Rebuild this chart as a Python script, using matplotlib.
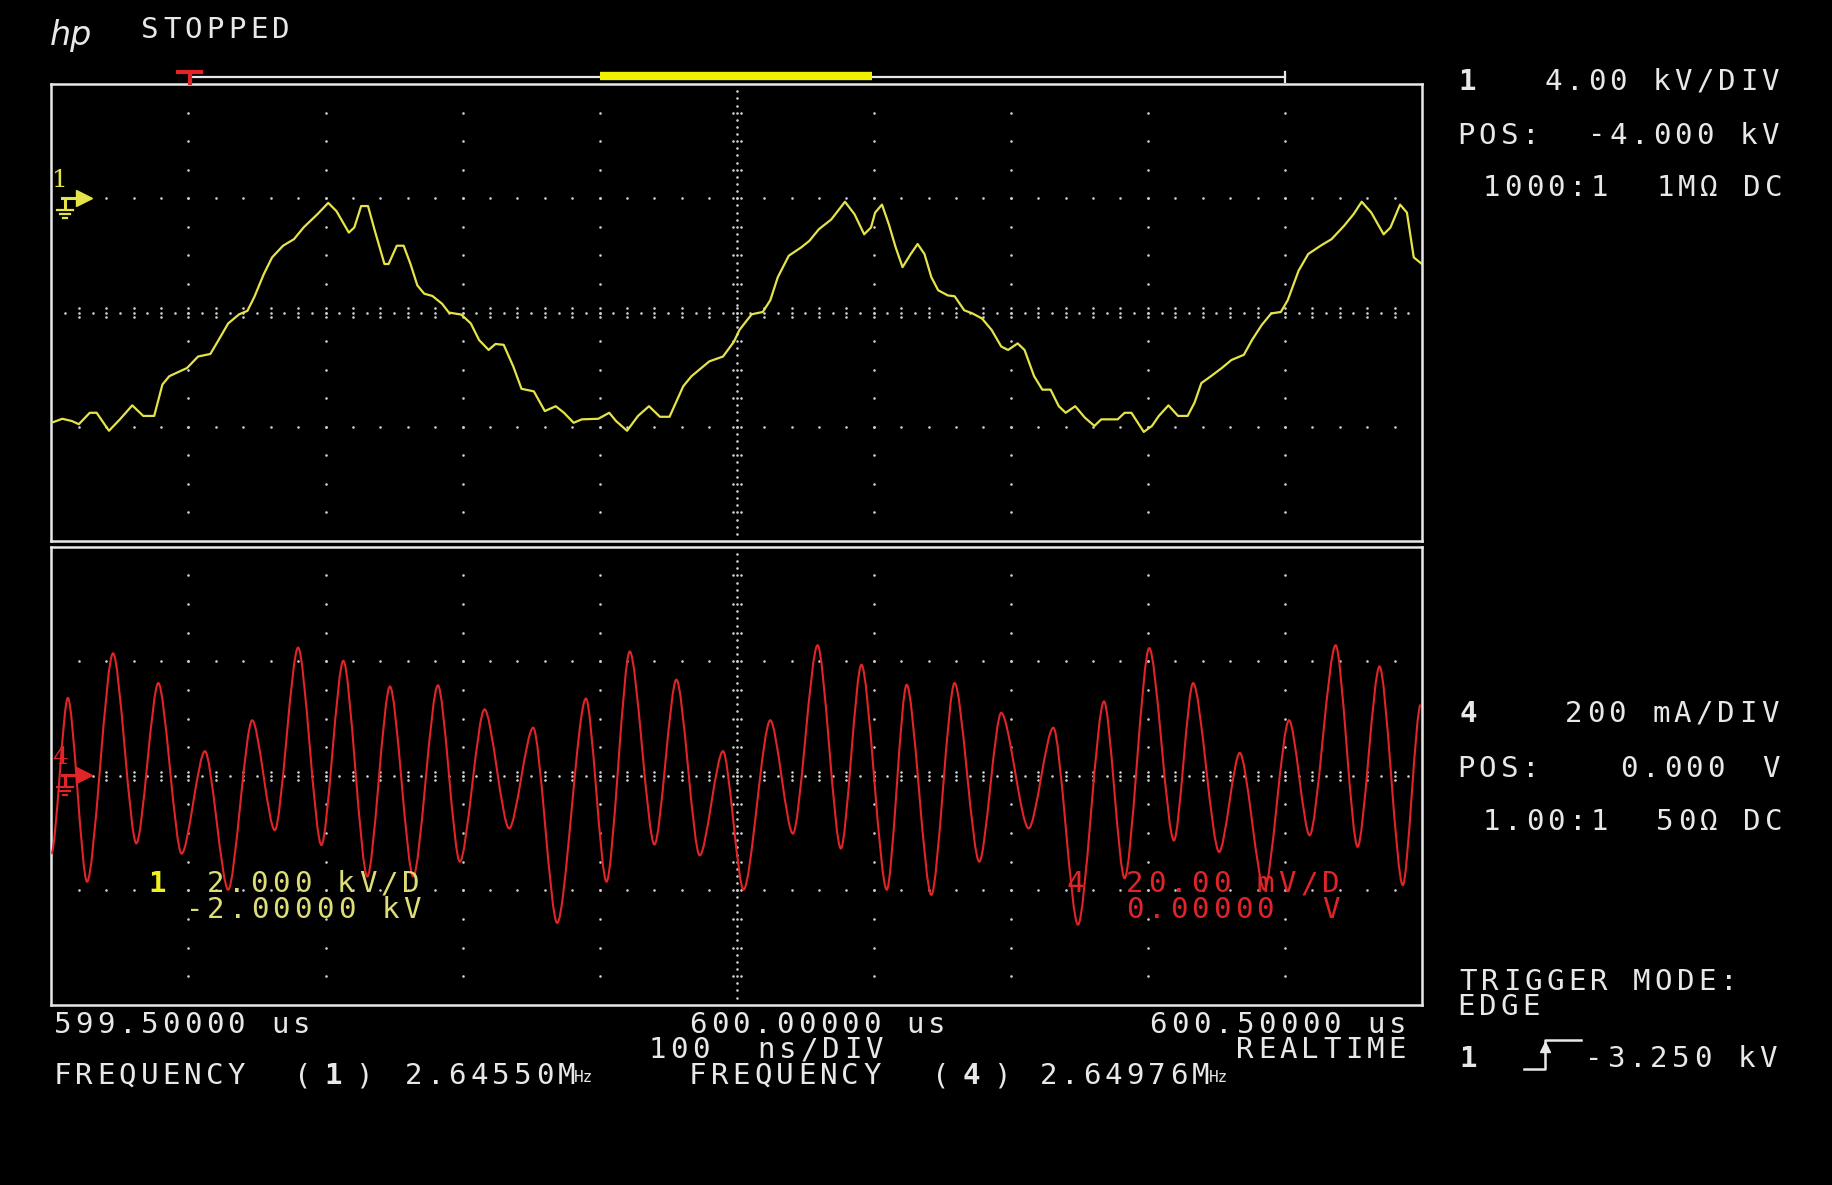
import numpy as np
import matplotlib
matplotlib.use("Agg")
import matplotlib.pyplot as plt
from matplotlib.path import Path
from matplotlib.patches import PathPatch

W, H = 1832, 1185

# channel 1 (yellow): time in ns relative to 600.00000 us, voltage in kV
CH1_T_NS = [
    -500, -492, -485, -480, -472, -467, -458, -450, -441, -433,
    -425, -419, -414, -401, -393, -384, -378, -371, -363, -357,
    -352, -345, -339, -331, -323, -316, -306, -298, -292, -283,
    -279, -274, -269, -264, -257, -254, -248, -243, -238, -233,
    -228, -222, -215, -210, -201, -194, -188, -181, -176, -170,
    -163, -157, -148, -140, -132, -126, -119, -113, -101, -93,
    -88, -80, -72, -64, -56, -49, -39, -33, -20, -10,
    -2, 2,
    7.5, 11, 19, 24.5, 30, 38, 47, 53, 60, 69,
    79, 86, 93, 98, 101, 106, 111, 116, 121, 127,
    132, 137, 142, 147, 154, 159, 166, 172, 179, 186,
    193, 198, 205, 210, 217, 223, 229, 235, 240, 247,
    254, 261, 266, 278, 283, 288, 297, 303, 308, 315,
    322, 329, 334, 339, 346, 354, 361, 370, 376, 383,
    390, 397, 402, 410, 417, 426, 434, 443, 450, 456,
    463, 472, 477, 484, 489, 494, 500,
]
CH1_KV = [
    -7.86, -7.72, -7.80, -7.91, -7.51, -7.51, -8.14, -7.74, -7.25, -7.62,
    -7.62, -6.52, -6.23, -5.94, -5.54, -5.45, -4.96, -4.38, -4.06, -3.94,
    -3.46, -2.65, -2.07, -1.66, -1.43, -1.02, -0.56, -0.16, -0.45, -1.20,
    -1.02, -0.27, -0.27, -1.14, -2.30, -2.30, -1.66, -1.66, -2.30, -3.05,
    -3.34, -3.42, -3.69, -4.00, -4.07, -4.38, -4.96, -5.31, -5.10, -5.13,
    -5.89, -6.67, -6.76, -7.45, -7.28, -7.51, -7.86, -7.74, -7.72, -7.51,
    -7.80, -8.14, -7.62, -7.28, -7.65, -7.65, -6.58, -6.23, -5.71, -5.54,
    -5.02, -4.61,
    -4.27, -4.06, -3.98, -3.57, -2.76, -2.01, -1.72, -1.49, -1.08, -0.74,
    -0.12, -0.56, -1.26, -1.02, -0.50, -0.22, -0.91, -1.72, -2.41, -1.95,
    -1.60, -1.95, -2.76, -3.22, -3.40, -3.43, -3.92, -4.03, -4.21, -4.61,
    -5.19, -5.31, -5.08, -5.31, -6.23, -6.70, -6.70, -7.28, -7.51, -7.28,
    -7.68, -7.97, -7.74, -7.74, -7.51, -7.51, -8.18, -7.97, -7.62, -7.25,
    -7.62, -7.62, -7.16, -6.47, -6.23, -5.94, -5.66, -5.48, -4.96, -4.44,
    -4.03, -3.98, -3.57, -2.53, -1.95, -1.66, -1.43, -0.97, -0.56, -0.12,
    -0.50, -1.26, -1.02, -0.22, -0.50, -2.07, -2.30,
]

# channel 4 (red): peaks and troughs, time in ns, current in mA
CH4_T_NS = [
    -500, -488, -474, -455, -438, -422, -405, -388, -371, -353.5,
    -337, -320, -303, -287, -269.5, -253, -236, -218, -202, -184,
    -166, -148.5, -131, -110, -95, -78, -60, -44, -27, -10,
    5, 24.5, 41, 59, 76, 91, 109.5, 124, 142, 159,
    177, 193, 213, 231, 249, 268, 283, 301, 319, 333,
    352, 367, 385, 403, 418, 437, 453, 469, 486, 499,
]
CH4_MA = [
    -136, 136, -185, 214, -118, 162, -136, 43, -199, 97,
    -95, 224, -121, 201, -176, 156, -176, 158, -150, 116,
    -92, 84, -257, 135, -185, 217, -120, 168, -139, 43,
    -199, 97, -101, 228, -127, 194, -199, 159, -208, 162,
    -150, 110, -92, 84, -260, 130, -179, 223, -113, 162,
    -133, 40, -199, 97, -104, 228, -124, 191, -191, 124,
]

T_LEFT, T_RIGHT = -500, 500          # 100 ns/DIV, 10 divisions
CH1_CENTER, CH1_PER_DIV = -4.0, 4.0  # POS -4.000 kV, 4.00 kV/DIV
CH4_CENTER, CH4_PER_DIV = 0.0, 200.0 # POS 0.000, 200 mA/DIV

YELLOW = "#e4e44a"
YEL_TXT = "#dede78"
RED = "#e02428"
WHITE = "#e8e8e8"
DOT = "#d0d0d0"
MONO = "DejaVu Sans Mono"
PITCH = 21.75
FS = 21


def px_axes(fig, x0, y0, x1, y1):
    return fig.add_axes([x0 / W, 1 - y1 / H, (x1 - x0) / W, (y1 - y0) / H])


def graticule(ax):
    tr = ax.transAxes
    kw = dict(s=3.5, c=DOT, lw=0, transform=tr, zorder=1, clip_on=False)
    xs = np.arange(1, 50) / 50
    for yf in (0.25, 0.75):
        ax.scatter(xs, np.full_like(xs, yf), **kw)
    ys = np.arange(1, 16) / 16
    for k in range(1, 10):
        if k != 5:
            ax.scatter(np.full_like(ys, k / 10), ys, **kw)
    # centre row, finer, with ticks
    xs = np.arange(1, 100) / 100
    ax.scatter(xs, np.full_like(xs, 0.5), **kw)
    xt = np.arange(1, 50) / 50
    for dy in (-0.009, 0.009):
        ax.scatter(xt, np.full_like(xt, 0.5 + dy), **kw)
    # centre column, finer, with ticks
    ys = np.arange(1, 64) / 64
    ax.scatter(np.full_like(ys, 0.5), ys, **kw)
    yt = np.arange(1, 16) / 16
    for dx in (-0.003, 0.003):
        ax.scatter(np.full_like(yt, 0.5 + dx), yt, **kw)


def style_panel(ax):
    ax.set_facecolor("black")
    ax.set_xticks([])
    ax.set_yticks([])
    for sp in ax.spines.values():
        sp.set_color(WHITE)
        sp.set_linewidth(1.8)


def smooth_trace(ax, ts, vs, color, k=0.28):
    # peak-to-peak segments drawn as cubic curves (flat tangent at each extreme)
    verts = [(ts[0], vs[0])]
    codes = [Path.MOVETO]
    for (t0, v0), (t1, v1) in zip(zip(ts[:-1], vs[:-1]), zip(ts[1:], vs[1:])):
        dt = t1 - t0
        verts += [(t0 + k * dt, v0), (t1 - k * dt, v1), (t1, v1)]
        codes += [Path.CURVE4] * 3
    ax.add_patch(PathPatch(Path(verts, codes), fill=False, edgecolor=color,
                           lw=1.5, zorder=3))


fig = plt.figure(figsize=(W / 100, H / 100), dpi=100, facecolor="black")

top = px_axes(fig, 51.4, 84.1, 1422, 541)
bot = px_axes(fig, 51.4, 546.8, 1422, 1004.8)
for ax in (top, bot):
    style_panel(ax)
    graticule(ax)
    ax.set_xlim(T_LEFT, T_RIGHT)

top.set_ylim(CH1_CENTER - 2 * CH1_PER_DIV, CH1_CENTER + 2 * CH1_PER_DIV)
top.plot(CH1_T_NS, CH1_KV, color=YELLOW, lw=1.6, zorder=3)

bot.set_ylim(CH4_CENTER - 2 * CH4_PER_DIV, CH4_CENTER + 2 * CH4_PER_DIV)
smooth_trace(bot, CH4_T_NS, CH4_MA, RED)

# overlay in screen pixels for annotations
ov = fig.add_axes([0, 0, 1, 1])
ov.set_xlim(0, W)
ov.set_ylim(H, 0)
ov.axis("off")
ov.patch.set_alpha(0)
ov.set_zorder(5)


def mono(x, y, s, color=WHITE, weight="normal", size=FS):
    for i, ch in enumerate(s):
        if ch != " ":
            ov.text(x + (i + 0.5) * PITCH, y, ch, ha="center", va="center",
                    family=MONO, fontsize=size, color=color, fontweight=weight)


def mhz(x, y, digits, color=WHITE):
    mono(x, y, digits + "M", color)
    ov.text(x + (len(digits) + 1.3) * PITCH, y + 1, "Hz", ha="center", va="center",
            family=MONO, fontsize=FS * 0.55, color=color)


# header
ov.text(50, 36, "hp", fontsize=24, fontstyle="italic", color=WHITE,
        family="DejaVu Sans", fontweight="light", va="center", ha="left")
mono(139, 30, "STOPPED")

# time bar + trigger marker
ov.plot([190, 1285], [77, 77], color=WHITE, lw=1.6)
ov.plot([1285, 1285], [72, 82], color=WHITE, lw=1.6)
ov.plot([600, 872], [76, 76], color="#f0f000", lw=6, solid_capstyle="butt")
ov.plot([178, 201], [72, 72], color=RED, lw=3)
ov.plot([190, 190], [72, 83], color=RED, lw=3)

# channel ground markers
def ground(y, color, label):
    ov.text(60, y - 17, label, fontsize=18, color=color, family="DejaVu Serif",
            ha="center", va="center")
    ov.plot([62, 78], [y, y], color=color, lw=2.2)
    ov.plot([65, 65], [y, y + 10], color=color, lw=2.2)
    ov.plot([84], [y], marker=">", ms=12, color=color, mec=color)
    for i, half in enumerate((8, 5, 2)):
        ov.plot([65 - half, 65 + half], [y + 12 + 4 * i] * 2, color=color, lw=1.6)

ground(197.5, YELLOW, "1")
ground(775, RED, "4")

# right-hand channel settings
mono(1456, 81.8, "1", weight="bold")
mono(1542, 81.8, "4.00 kV/DIV")
mono(1455, 135.5, "POS:  -4.000 kV")
mono(1480, 188, "1000:1  1M\u03a9 DC")

mono(1457, 714, "4", weight="bold")
mono(1563, 714, "200 mA/DIV")
mono(1455, 769, "POS:")
mono(1618, 769, "0.000")
mono(1760, 769, "V")
mono(1480, 822.5, "1.00:1  50\u03a9 DC")

mono(1457, 981.5, "TRIGGER MODE:")
mono(1455, 1007, "EDGE")
mono(1457, 1058.6, "1", weight="bold")
ov.plot([1524, 1545, 1545, 1581], [1069, 1069, 1040, 1040], color=WHITE, lw=1.8)
ov.plot([1545], [1047], marker="^", ms=7, color=WHITE)
mono(1583, 1058.6, "-3.250 kV")

# time base row
mono(51.4, 1024.7, "599.50000 us")
mono(687, 1024.7, "600.00000 us")
mono(1147.4, 1024.7, "600.50000 us")
mono(646, 1050.4, "100  ns/DIV")
mono(1234, 1050.4, "REALTIME")

mono(51.4, 1076, "FREQUENCY")
mono(292, 1076, "(")
mono(322, 1076, "1", weight="bold")
mono(354, 1076, ")")
mhz(403, 1076, "2.64550")
mono(687, 1076, "FREQUENCY")
mono(930, 1076, "(")
mono(960, 1076, "4", weight="bold")
mono(992, 1076, ")")
mhz(1037.5, 1076, "2.64976")

# in-graticule measurement labels
mono(146, 884.5, "1", color="#f0f020", weight="bold")
mono(204.5, 884.5, "2.000 kV/D", color=YEL_TXT)
mono(183.4, 910, "-2.00000 kV", color=YEL_TXT)
mono(1064, 884.5, "4", color=RED)
mono(1124, 884.5, "20.00 mV/D", color=RED)
mono(1124, 910, "0.00000  V", color=RED)

fig.savefig("out.png", dpi=100, facecolor="black")
